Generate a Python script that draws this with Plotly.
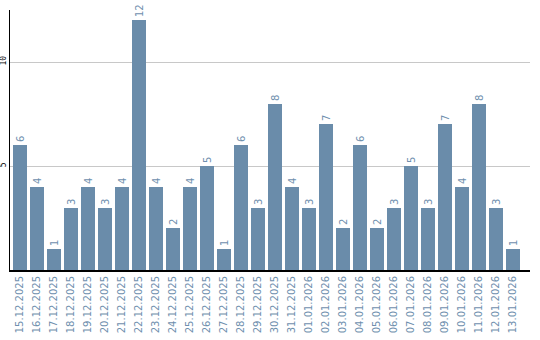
import plotly.graph_objects as go

dates = ["15.12.2025","16.12.2025","17.12.2025","18.12.2025","19.12.2025","20.12.2025",
         "21.12.2025","22.12.2025","23.12.2025","24.12.2025","25.12.2025","26.12.2025",
         "27.12.2025","28.12.2025","29.12.2025","30.12.2025","31.12.2025","01.01.2026",
         "02.01.2026","03.01.2026","04.01.2026","05.01.2026","06.01.2026","07.01.2026",
         "08.01.2026","09.01.2026","10.01.2026","11.01.2026","12.01.2026","13.01.2026"]
counts = [6,4,1,3,4,3,4,12,4,2,4,5,1,6,3,8,4,3,7,2,6,2,3,5,3,7,4,8,3,1]

bar_color = "#6a8caa"
label_color = "#6f8fae"

fig = go.Figure(go.Bar(
    x=dates, y=counts,
    marker=dict(color=bar_color, line=dict(width=0)),
    width=14/17,
    text=[str(v) for v in counts],
    textposition="outside",
    textangle=-90,
    textfont=dict(family="DejaVu Sans", size=10, color=label_color),
    cliponaxis=False,
))

fig.update_layout(
    width=540, height=340,
    margin=dict(l=10, r=10, t=10, b=70),
    paper_bgcolor="white", plot_bgcolor="white",
    showlegend=False,
    bargap=0,
    xaxis=dict(
        type="category",
        range=[-0.5 - 1.5/17, 30.0],
        showline=True, linecolor="black", linewidth=2,
        showgrid=False, ticks="",
        tickangle=-90,
        tickfont=dict(family="DejaVu Sans", size=10, color=label_color),
        automargin=False,
    ),
    yaxis=dict(
        range=[0, 12.5],
        tickvals=[5, 10],
        showline=True, linecolor="black", linewidth=1,
        showgrid=True, gridcolor="#c8c8c8", gridwidth=1,
        zeroline=False, ticks="",
        tickangle=-90,
        tickfont=dict(family="DejaVu Sans Mono", size=8, color="black"),
        ticklabelstandoff=0,
        automargin=False,
    ),
)

fig.write_html("out.html")
